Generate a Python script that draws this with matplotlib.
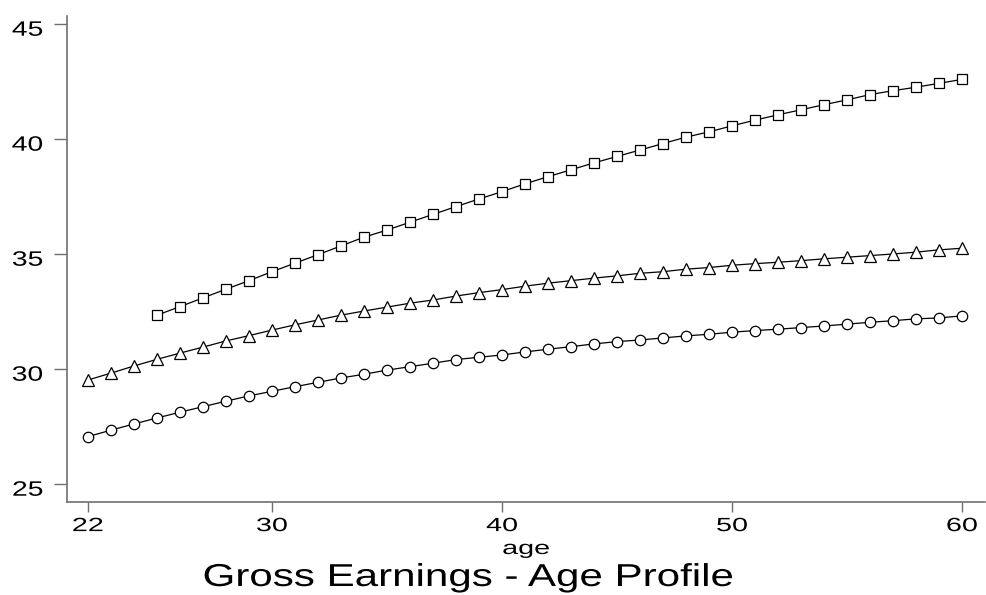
import matplotlib
matplotlib.use("Agg")
import matplotlib.pyplot as plt
from matplotlib.patheffects import AbstractPathEffect
from matplotlib.transforms import Affine2D

plt.rcParams['font.family'] = ['Liberation Sans', 'DejaVu Sans']

ages = list(range(22, 61))
circles = [27.07, 27.35, 27.62, 27.88, 28.13, 28.37, 28.61, 28.84, 29.04, 29.24,
           29.43, 29.62, 29.78, 29.96, 30.11, 30.26, 30.42, 30.52, 30.62, 30.75,
           30.87, 30.98, 31.10, 31.20, 31.27, 31.36, 31.45, 31.52, 31.61, 31.68,
           31.74, 31.81, 31.88, 31.96, 32.04, 32.11, 32.19, 32.23, 32.32]
triangles = [29.53, 29.83, 30.14, 30.43, 30.70, 30.96, 31.23, 31.46, 31.70, 31.93,
             32.14, 32.35, 32.53, 32.70, 32.87, 33.01, 33.18, 33.33, 33.46, 33.61,
             33.74, 33.85, 33.96, 34.06, 34.17, 34.24, 34.35, 34.42, 34.52, 34.59,
             34.65, 34.72, 34.80, 34.87, 34.94, 35.01, 35.09, 35.19, 35.26]
ages_sq = list(range(25, 61))
squares = [32.35, 32.72, 33.10, 33.48, 33.85, 34.24, 34.61, 34.98, 35.36, 35.74,
           36.05, 36.39, 36.73, 37.07, 37.40, 37.72, 38.06, 38.37, 38.67, 38.97,
           39.25, 39.53, 39.81, 40.09, 40.32, 40.58, 40.83, 41.06, 41.28, 41.50,
           41.71, 41.94, 42.11, 42.26, 42.43, 42.60]

xticks = [22, 30, 40, 50, 60]
yticks = [25, 30, 35, 40, 45]
x_title = 'age'
title = 'Gross Earnings - Age Profile'


class Stretch(AbstractPathEffect):
    """Draw text wider horizontally (like the reference's stretched text)."""

    def __init__(self, sx=1.4, anchor='center', dy=0.0):
        super().__init__()
        self.sx, self.anchor, self.dy = sx, anchor, dy

    def draw_path(self, renderer, gc, tpath, affine, rgbFace=None):
        ext = tpath.get_extents(affine)
        if self.anchor == 'center':
            cx = 0.5 * (ext.x0 + ext.x1)
        elif self.anchor == 'right':
            cx = ext.x1
        else:
            cx = ext.x0
        tr = affine + Affine2D().translate(-cx, 0).scale(self.sx, 1).translate(cx, self.dy)
        renderer.draw_path(gc, tpath, tr, rgbFace)


W, H = 987, 595
fig = plt.figure(figsize=(W / 100, H / 100), dpi=100)
ax = fig.add_axes([67 / W, 1 - 501.7 / H, (985 - 67) / W, (501.7 - 15.7) / H])

style = dict(color='black', lw=0.9, mfc='white', mec='black', mew=0.9)
ax.plot(ages, circles, marker='o', ms=7.5, **style)
ax.plot(ages, triangles, marker='^', ms=8, **style)
ax.plot(ages_sq, squares, marker='s', ms=7.5, **style)

ax.set_xlim(21.09, 61.0)
ax.set_ylim(24.24, 45.37)
ax.set_xticks(xticks)
ax.set_yticks(yticks)
for s in ['top', 'right']:
    ax.spines[s].set_visible(False)
for s in ['left', 'bottom']:
    ax.spines[s].set_color('#707070')
    ax.spines[s].set_linewidth(1.2)
ax.tick_params(axis='x', direction='out', length=7.2, width=1.0, color='#707070',
               labelsize=13.8, pad=4.6)
ax.tick_params(axis='y', direction='out', length=9.6, width=1.0, color='#707070',
               labelsize=15, pad=7.6)
for lab in ax.get_xticklabels():
    lab.set_path_effects([Stretch(1.5, 'center')])
for lab in ax.get_yticklabels():
    lab.set_path_effects([Stretch(1.36, 'right', dy=-4)])

t1 = fig.text(526 / W, 1 - 554 / H, x_title, ha='center', va='baseline', fontsize=13.8)
t1.set_path_effects([Stretch(1.5, 'center')])
t2 = fig.text(468 / W, 1 - 586 / H, title, ha='center', va='baseline', fontsize=22.8)
t2.set_path_effects([Stretch(1.33, 'center')])

fig.savefig('out.png', dpi=100)
